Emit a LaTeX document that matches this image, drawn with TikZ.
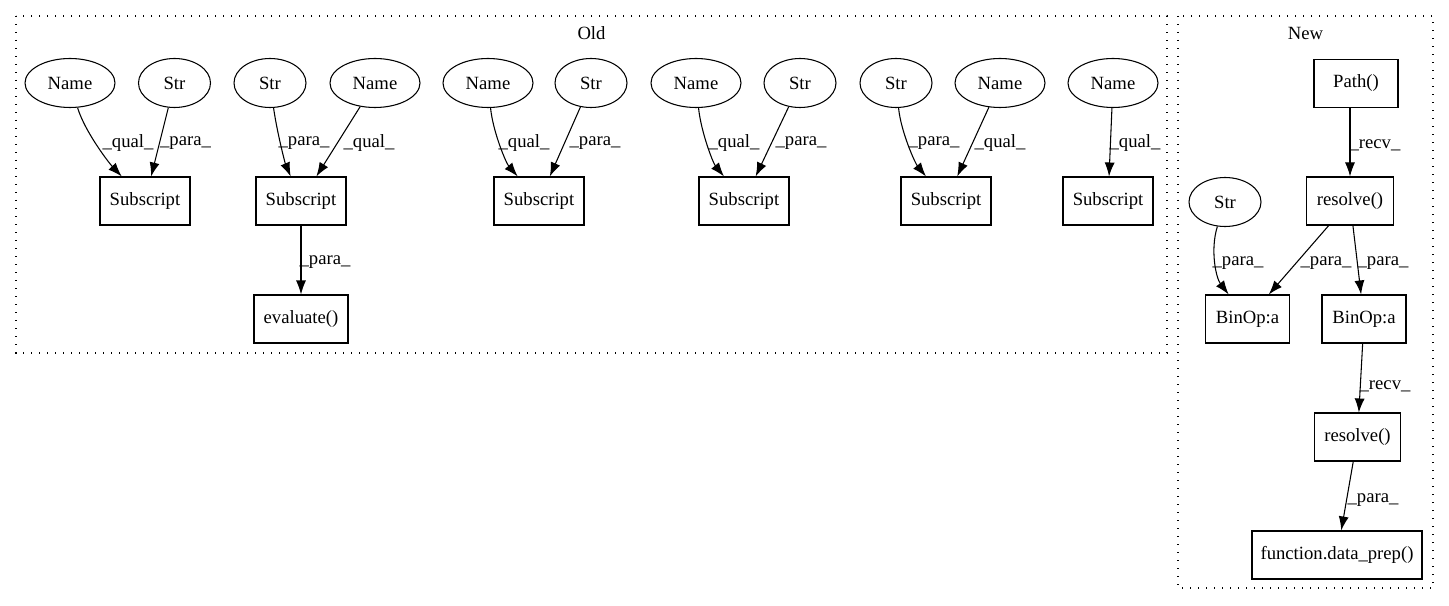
\documentclass[tikz,border=0pt]{standalone}
\usepackage{fontspec}
\setmainfont{Liberation Serif}
\usetikzlibrary{shapes.geometric,arrows.meta}
\tikzset{
  gv/.style={draw, line width=0.8pt, inner sep=0pt, font=\fontsize{14pt}{16pt}\selectfont},
  ell/.style={gv, ellipse, minimum height=36.75pt},
  namenode/.style={ell, minimum width=67.5pt},
  strnode/.style={ell, minimum width=54pt},
  rect/.style={gv, rectangle, minimum height=36pt},
  subnode/.style={rect, minimum width=67.5pt},
  arr/.style={line width=0.8pt, -{Latex[length=10.5pt,width=7.5pt]}},
  lbl/.style={font=\fontsize{14pt}{16pt}\selectfont, inner sep=0pt},
  clus/.style={draw, line width=0.8pt, dash pattern=on 1pt off 5pt},
}
\begin{document}
\begin{tikzpicture}[x=0.75pt,y=-0.75pt]
\useasboundingbox (0,0) rectangle (1449,606);
% clusters
\draw[clus] (16,16) rectangle (1167,353);
\node[lbl] (oldt) at (591.5,33) {Old};
\draw[clus] (1178,16) rectangle (1433,588);
\node[lbl] (newt) at (1305.5,33) {New};

% Old group 1
\node[namenode] (n1) at (70,83) {Name};
\node[strnode] (s1) at (174.5,83) {Str};
\node[subnode] (b1) at (145,201) {Subscript};
\draw[arr] (n1) .. controls (85,132) and (109,163) .. (b1);
\draw[arr] (s1) -- (b1);
\node[lbl] (l1a) at (128,143) {\_qual\_};
\node[lbl] (l1b) at (185.5,143) {\_para\_};

% Old group 2
\node[strnode] (s2) at (270,83) {Str};
\node[namenode] (n2) at (375,83) {Name};
\node[subnode] (b2) at (301,201) {Subscript};
\node[rect, minimum width=70.5pt] (ev) at (301,319) {evaluate()};
\draw[arr] (s2) .. controls (277,132) and (285,163) .. (b2);
\draw[arr] (n2) -- (b2);
\draw[arr] (b2) -- (ev);
\node[lbl] (l2a) at (304,143) {\_para\_};
\node[lbl] (l2b) at (369,143) {\_qual\_};
\node[lbl] (l2c) at (325,262) {\_para\_};

% Old group 3
\node[namenode] (n3) at (488,83) {Name};
\node[strnode] (s3) at (591,83) {Str};
\node[subnode] (b3) at (539,201) {Subscript};
\draw[arr] (n3) .. controls (493,132) and (506,163) .. (b3);
\draw[arr] (s3) -- (b3);
\node[lbl] (l3a) at (524,143) {\_qual\_};
\node[lbl] (l3b) at (595,143) {\_para\_};

% Old group 4
\node[namenode] (n4) at (696,83) {Name};
\node[strnode] (s4) at (800,83) {Str};
\node[subnode] (b4) at (744,201) {Subscript};
\draw[arr] (n4) .. controls (701,132) and (713,163) .. (b4);
\draw[arr] (s4) -- (b4);
\node[lbl] (l4a) at (734,143) {\_qual\_};
\node[lbl] (l4b) at (801,143) {\_para\_};

% Old group 5
\node[strnode] (s5) at (896,83) {Str};
\node[namenode] (n5) at (1000,83) {Name};
\node[subnode] (b5) at (946,201) {Subscript};
\draw[arr] (s5) .. controls (901,132) and (915,163) .. (b5);
\draw[arr] (n5) -- (b5);
\node[lbl] (l5a) at (934,143) {\_para\_};
\node[lbl] (l5b) at (1000,143) {\_qual\_};

% Old group 6
\node[namenode] (n6) at (1113,83) {Name};
\node[subnode] (b6) at (1108,201) {Subscript};
\draw[arr] (n6) -- (b6);
\node[lbl] (l6a) at (1135,143) {\_qual\_};

% New
\node[rect, minimum width=63pt] (path) at (1356,83.5) {Path()};
\node[rect, minimum width=65pt] (r1) at (1350,201) {resolve()};
\node[strnode] (ns) at (1225,202) {Str};
\node[rect, minimum width=63pt] (bo1) at (1247.5,319) {BinOp:a};
\node[rect, minimum width=63pt] (bo2) at (1364,319) {BinOp:a};
\node[rect, minimum width=65pt] (r2) at (1357.5,437) {resolve()};
\node[rect, minimum width=127.5pt] (fn) at (1337,555) {function.data\_prep()};
\draw[arr] (path.south -| r1.north) -- (r1);
\draw[arr] (ns) .. controls (1210,250) and (1216,278) .. (bo1);
\draw[arr] (r1) -- (bo1);
\draw[arr] (r1) -- (bo2);
\draw[arr] (bo2) -- (r2);
\draw[arr] (r2) -- (fn);
\node[lbl] (lr1) at (1375,145) {\_recv\_};
\node[lbl] (lp1) at (1238,263) {\_para\_};
\node[lbl] (lp2) at (1326,263) {\_para\_};
\node[lbl] (lp3) at (1383,263) {\_para\_};
\node[lbl] (lr2) at (1385,386) {\_recv\_};
\node[lbl] (lp4) at (1373,500) {\_para\_};
\end{tikzpicture}
\end{document}
